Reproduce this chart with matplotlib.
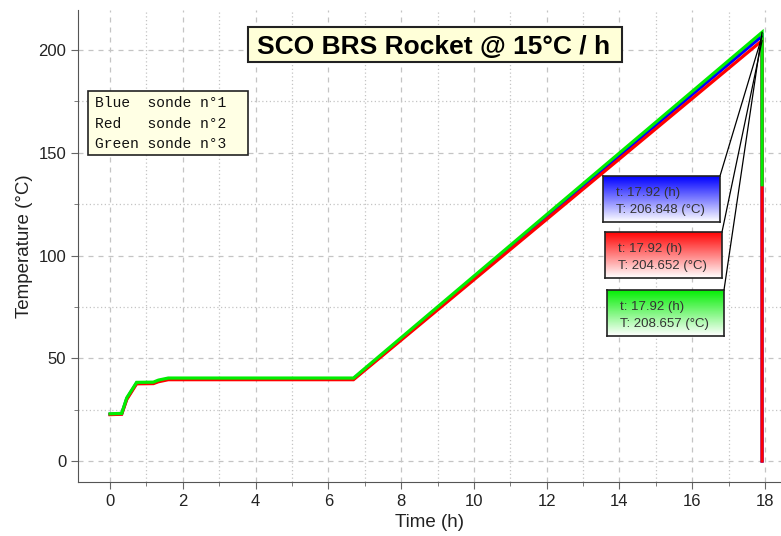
import numpy as np
import matplotlib
matplotlib.use("Agg")
import matplotlib.pyplot as plt
from matplotlib.patches import Rectangle
from matplotlib.ticker import MultipleLocator

plt.rcParams['font.family'] = ['Liberation Sans', 'DejaVu Sans']

# probe readings (time in hours, temperature in degC)
time_h = [0.0, 0.32, 0.46, 0.73, 1.19, 1.33, 1.6, 6.69, 17.92, 17.92]
blue_T = [22.8, 23.0, 30.4, 38.0, 38.0, 39.0, 40.0, 40.0, 206.848, 0.0]
red_T = [22.6, 22.8, 30.0, 37.6, 37.7, 38.6, 39.6, 39.6, 204.652, 0.0]
green_T = [23.0, 23.2, 30.8, 38.3, 38.4, 39.4, 40.4, 40.4, 208.657, 134.5]

series_names = ["Blue", "Red", "Green"]
series_colors = ["#0000ff", "#ff0000", "#00ee00"]
series_data = [blue_T, red_T, green_T]
probe_labels = ["sonde n°1", "sonde n°2", "sonde n°3"]

t_end = 17.92
end_values = [206.848, 204.652, 208.657]

title = "SCO BRS Rocket @ 15°C / h"

W, H = 781, 536
fig = plt.figure(figsize=(W / 100, H / 100), dpi=100)
ax = fig.add_axes([0.0999, 0.1007, 0.9001, 0.8806])


def fx(px):
    return px / W


def fy(py):
    return 1 - py / H


for name, color, temps in zip(series_names, series_colors, series_data):
    ax.plot(time_h, temps, color=color, lw=2.3, solid_joinstyle='miter', zorder=3)

ax.set_xlim(-0.88, 18.44)
ax.set_ylim(-10.2, 219.5)
ax.xaxis.set_major_locator(MultipleLocator(2))
ax.xaxis.set_minor_locator(MultipleLocator(1))
ax.yaxis.set_major_locator(MultipleLocator(50))
ax.yaxis.set_minor_locator(MultipleLocator(25))

ax.grid(True, which='major', color='#c4c4c4', linestyle=(0, (4, 4)), linewidth=0.9, zorder=0)
ax.grid(True, which='minor', color='#c4c4c4', linestyle=(0, (1, 2)), linewidth=0.9, zorder=0)

for side in ['top', 'right']:
    ax.spines[side].set_visible(False)
for side in ['left', 'bottom']:
    ax.spines[side].set_color('#555555')
ax.tick_params(which='major', length=5, color='#666666', labelsize=12, labelcolor='#222222')
ax.tick_params(which='minor', length=3, color='#666666')

ax.set_xlabel("Time (h)", fontsize=13.5, color='#222222', labelpad=4)
ax.set_ylabel("Temperature (°C)", fontsize=13.5, color='#222222', labelpad=4)

# title box
fig.add_artist(Rectangle((fx(248), fy(62)), fx(622) - fx(248), fy(27) - fy(62),
                         transform=fig.transFigure, facecolor='#ffffd8', edgecolor='#222222',
                         linewidth=1.5, zorder=6))
fig.text(fx(434), fy(54), title, ha='center', va='baseline', fontsize=19,
         fontweight='bold', color='black', zorder=7)

# legend box
fig.add_artist(Rectangle((fx(88), fy(155)), fx(248) - fx(88), fy(91) - fy(155),
                         transform=fig.transFigure, facecolor='#ffffe4', edgecolor='#222222',
                         linewidth=1.2, zorder=6))
for i, (n, p) in enumerate(zip(series_names, probe_labels)):
    fig.text(fx(95), fy(103 + 20.5 * i), f"{n:<6s}{p}", ha='left', va='center',
             fontsize=10.5, family='Liberation Mono', color='#111111', zorder=7)

# data tip boxes with gradient fill
tip_boxes = [(603, 176, 720, 222), (605, 232, 722, 278), (607, 290, 724, 336)]
for (l, t, r, b), color, val in zip(tip_boxes, series_colors, end_values):
    bax = fig.add_axes([fx(l), fy(b), fx(r) - fx(l), fy(t) - fy(b)], zorder=5)
    rgb = np.array(matplotlib.colors.to_rgb(color))
    frac = np.linspace(0, 1, 64)[:, None]
    grad = (1 - frac) * rgb + frac * np.ones(3)
    bax.imshow(grad[:, None, :].repeat(2, axis=1), aspect='auto', extent=[0, 1, 0, 1],
               origin='upper')
    bax.set_xticks([])
    bax.set_yticks([])
    for s in bax.spines.values():
        s.set_color('#222222')
        s.set_linewidth(1.2)
    bax.text(0.11, 0.62, f"t: {t_end:.2f} (h)", fontsize=9.5, color='#333333', va='center')
    bax.text(0.11, 0.25, f"T: {val:.3f} (°C)", fontsize=9.5, color='#333333', va='center')
    ax.annotate("", xy=(t_end, val), xycoords='data',
                xytext=(fx(r), fy(t)), textcoords='figure fraction',
                arrowprops=dict(arrowstyle='-', color='black', lw=0.9,
                                shrinkA=0, shrinkB=0), zorder=4)

fig.savefig("out.png", dpi=100)
